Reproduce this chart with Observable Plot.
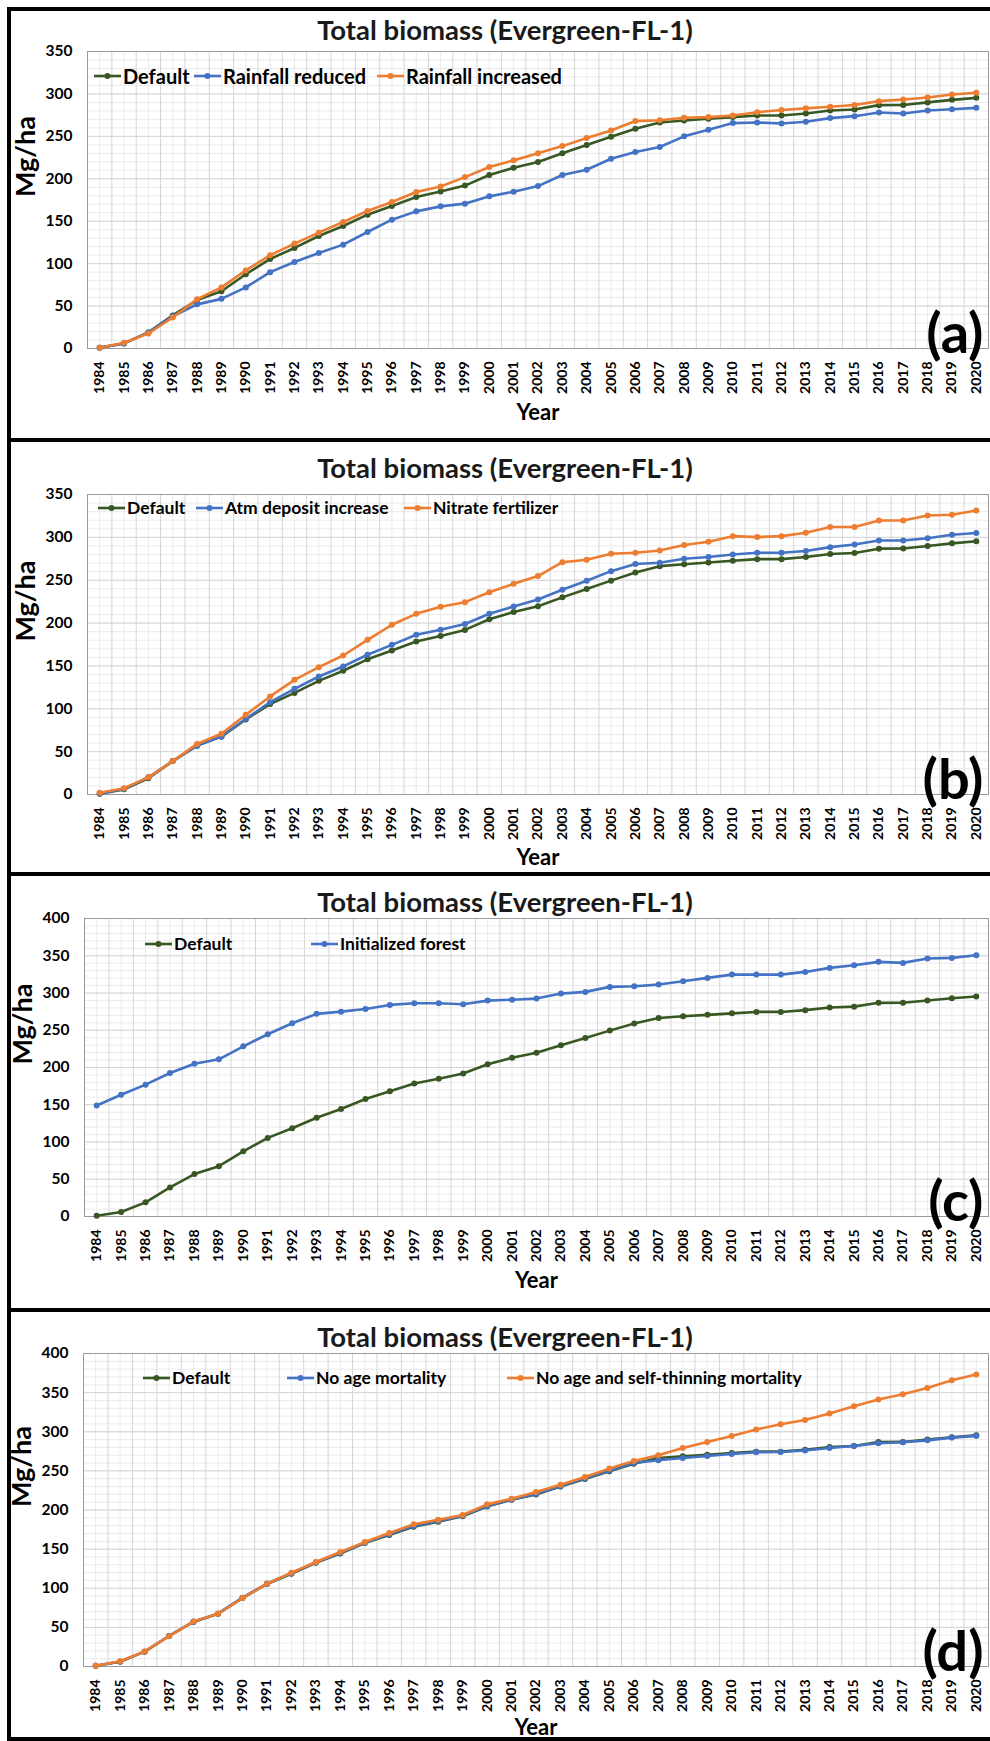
<!DOCTYPE html>
<html>
<head>
<meta charset="utf-8">
<script src="https://cdn.jsdelivr.net/npm/d3@7"></script>
<script src="https://cdn.jsdelivr.net/npm/@observablehq/plot@0.6"></script>
<style>
  html, body { margin: 0; padding: 0; background: #fff; }
  #page { position: relative; width: 990px; height: 1741px; overflow: hidden; font-family: Lato, "Open Sans", sans-serif; }
  .panel { position: absolute; left: 0; width: 990px; }
  .panel svg { position: absolute; left: 0; top: 0; }
  .title { position: absolute; left: 0; width: 1010px; text-align: center; font-size: 27.5px; font-weight: 700; color: #1a1a1a; line-height: 1; white-space: nowrap; }
  .legend-item { position: absolute; display: flex; align-items: center; font-weight: 700; color: #000; white-space: nowrap; line-height: 1; }
  .legend-item svg { position: static; margin-right: 2px; }
  .hline { position: absolute; left: 7px; width: 990px; height: 4px; background: #000; }
  .vline { position: absolute; top: 7px; width: 4px; height: 1734px; background: #000; }
</style>
</head>
<body>
<div id="page"></div>
<script>
// ---------- data ----------
const years = [1984,1985,1986,1987,1988,1989,1990,1991,1992,1993,1994,1995,1996,1997,1998,1999,2000,
               2001,2002,2003,2004,2005,2006,2007,2008,2009,2010,2011,2012,2013,2014,2015,2016,2017,2018,2019,2020];

const defaultSeries = [1, 6, 19, 39, 57, 67.5, 87.5, 105.5, 118.5, 132.6, 144.4, 157.7, 168, 178.5, 185, 192, 204.4,
  213, 219.7, 230, 239.7, 249.5, 259, 266.4, 268.7, 270.7, 272.7, 274.6, 274.6, 277, 280.5, 281.7, 286.8, 287, 290, 293, 295.4];

const rainfallReduced = [1, 6, 19, 38, 52, 58.5, 72, 90, 102, 112.6, 122.4, 137.3, 151.8, 161.6, 167.5, 170.7, 179.3,
  184.8, 191.4, 204.4, 210.7, 223.6, 231.5, 237.4, 250, 257.7, 265.6, 266.4, 265.2, 267.2, 271.5, 273.8, 278.2, 277, 280.5, 282, 283.6];

const rainfallIncreased = [1, 6.7, 17.7, 36.5, 58, 72, 92, 110, 123.6, 136.5, 149, 162, 172.6, 184.4, 191, 202, 213.8,
  221.7, 230, 238.5, 248, 257, 268, 269, 272, 272.7, 274.6, 278.5, 281, 283, 284.8, 287, 291.5, 293.5, 295.8, 299.3, 301.3];

const atmDepositIncrease = [1, 6.6, 20, 39, 57, 67.7, 88.3, 107.7, 123.3, 137.7, 149.4, 163, 174.6, 186.3, 192.1, 199, 210.8,
  219.4, 227.5, 238.8, 249.3, 260.6, 269, 270.3, 275, 277, 280, 282, 282, 284, 288.6, 291.7, 296.4, 296.4, 299, 303, 305];

const nitrateFertilizer = [2, 7.4, 20, 39, 59, 70.8, 93, 114.4, 133.8, 148.6, 162.2, 180.5, 198, 210.8, 219, 224.4, 236,
  245.8, 254.8, 271, 273.8, 280.8, 282, 284.7, 291, 294.8, 301.4, 300.3, 301.4, 305.3, 312, 312, 319.7, 319.7, 325.5, 326.3, 331.4];

const initializedForest = [149, 163.5, 177, 192.6, 205, 211, 228.4, 244.6, 259.4, 272, 275, 278.6, 284, 286.2, 286.2, 285, 289.8,
  291, 292.5, 299.2, 301.5, 308.2, 309, 311.3, 315.8, 320.3, 324.7, 324.7, 324.7, 328.3, 333.7, 337.3, 341.8, 340.4, 346.3, 347.1, 350.7];

const noAgeMortality = [1, 6.5, 19, 39, 57.5, 67.5, 88, 106, 119, 133, 145, 158, 169, 179.5, 186, 192.5, 205,
  213.5, 220.5, 230.5, 240.5, 250.5, 260, 263.5, 266.5, 269, 271.6, 273.8, 274.2, 276, 279.3, 281.9, 285.3, 286.6, 289, 292.5, 294.7];

const noAgeSelfThinning = [1, 6.8, 19.2, 38.8, 57.6, 67.4, 87.4, 105.8, 119.8, 133.5, 146.3, 159, 170.6, 181.7, 187.6, 193.6, 207.2,
  214.5, 223, 232.4, 242.2, 252.9, 262.7, 270, 279.3, 287, 294.7, 302.8, 309.6, 315.1, 323.2, 332.6, 341.2, 348, 356, 365.9, 373.1];

const titleText = "Total biomass (Evergreen-FL-1)";
const xLabel = "Year";
const yLabel = "Mg/ha";

const GREEN = "#385723", BLUE = "#4472C4", ORANGE = "#ED7D31";

// ---------- panels ----------
const panels = [
  { tag: "(a)", top: 0, height: 440, mt: 51, mb: 92, ml: 87, yMax: 350, titleY: 16, legendY: 76, legendSize: 20, yearDy: 71,
    series: [
      { name: "Default", values: defaultSeries, color: GREEN, lx: 94 },
      { name: "Rainfall reduced", values: rainfallReduced, color: BLUE, lx: 194 },
      { name: "Rainfall increased", values: rainfallIncreased, color: ORANGE, lx: 377 } ] },
  { tag: "(b)", top: 440, height: 434, mt: 54, mb: 80, ml: 87, yMax: 350, titleY: 14, legendY: 68, legendSize: 17.5, yearDy: 70,
    series: [
      { name: "Default", values: defaultSeries, color: GREEN, lx: 98 },
      { name: "Atm deposit increase", values: atmDepositIncrease, color: BLUE, lx: 196 },
      { name: "Nitrate fertilizer", values: nitrateFertilizer, color: ORANGE, lx: 404 } ] },
  { tag: "(c)", top: 874, height: 436, mt: 44, mb: 94, ml: 84, yMax: 400, titleY: 14, legendY: 70, legendSize: 17.5, yearDy: 71,
    series: [
      { name: "Default", values: defaultSeries, color: GREEN, lx: 145 },
      { name: "Initialized forest", values: initializedForest, color: BLUE, lx: 311 } ] },
  { tag: "(d)", top: 1310, height: 431, mt: 43, mb: 75, ml: 83, yMax: 400, titleY: 13, legendY: 68, legendSize: 17.5, yearDy: 68,
    series: [
      { name: "Default", values: defaultSeries, color: GREEN, lx: 143 },
      { name: "No age mortality", values: noAgeMortality, color: BLUE, lx: 287 },
      { name: "No age and self-thinning mortality", values: noAgeSelfThinning, color: ORANGE, lx: 507 } ] }
];

const page = document.getElementById("page");
const boundaries = years.slice(0, -1).map(y => y + 0.5);

for (const p of panels) {
  const div = document.createElement("div");
  div.className = "panel";
  div.style.top = p.top + "px";
  div.style.height = p.height + "px";
  page.appendChild(div);

  const seriesMarks = [];
  for (const s of p.series) {
    const rows = years.map((yr, i) => ({ year: yr, value: s.values[i] }));
    seriesMarks.push(Plot.line(rows, { x: "year", y: "value", stroke: s.color, strokeWidth: 2.6 }));
    seriesMarks.push(Plot.dot(rows, { x: "year", y: "value", fill: s.color, r: 3, stroke: "none" }));
  }

  const chart = Plot.plot({
    width: 990, height: p.height,
    marginTop: p.mt, marginBottom: p.mb, marginLeft: p.ml, marginRight: 2,
    style: { fontFamily: "Lato, 'Open Sans', sans-serif", fontWeight: "bold", color: "#000", background: "transparent", overflow: "visible" },
    x: { domain: [years[0] - 0.5, years[years.length - 1] + 0.5], label: null },
    y: { domain: [0, p.yMax], label: null },
    marks: [
      Plot.gridY({ interval: 10, stroke: "#ebebeb", strokeOpacity: 1 }),
      Plot.gridX({ ticks: years, stroke: "#ebebeb", strokeOpacity: 1 }),
      Plot.gridX({ ticks: boundaries, stroke: "#d6d6d6", strokeOpacity: 1 }),
      Plot.gridY({ interval: 50, stroke: "#d6d6d6", strokeOpacity: 1 }),
      Plot.frame({ stroke: "#9a9a9a" }),
      Plot.axisY({ interval: 50, tickSize: 0, tickPadding: 15, fontSize: 15.5, tickFormat: "d", label: null }),
      Plot.axisX({ ticks: years, tickSize: 0, tickPadding: 13, tickRotate: -90, fontSize: 14, tickFormat: "d", label: null }),
      ...seriesMarks,
      Plot.text([xLabel], { text: d => d, frameAnchor: "bottom", dy: p.yearDy, fontSize: 22, fontWeight: "bold" }),
      Plot.text([yLabel], { text: d => d, frameAnchor: "left", dx: -61, dy: -3, rotate: -90, fontSize: 27, fontWeight: "bold" }),
      Plot.text([p.tag], { text: d => d, frameAnchor: "bottom-right", textAnchor: "end", lineAnchor: "bottom", dx: -5, dy: 4, fontSize: 56, fontWeight: "bold" })
    ]
  });
  div.appendChild(chart);

  const t = document.createElement("div");
  t.className = "title";
  t.style.top = p.titleY + "px";
  t.textContent = titleText;
  div.appendChild(t);

  for (const s of p.series) {
    const it = document.createElement("div");
    it.className = "legend-item";
    it.style.left = s.lx + "px";
    it.style.top = (p.legendY - 11) + "px";
    it.style.height = "22px";
    it.style.fontSize = p.legendSize + "px";
    it.innerHTML = `<svg width="27" height="10" viewBox="0 0 27 10"><line x1="0" y1="5" x2="27" y2="5" stroke="${s.color}" stroke-width="2.6"/><circle cx="13.5" cy="5" r="3" fill="${s.color}"/></svg>`;
    const span = document.createElement("span");
    span.textContent = s.name;
    it.appendChild(span);
    div.appendChild(it);
  }
}

// panel frame lines
for (const y of [7, 438, 872, 1308, 1737]) {
  const h = document.createElement("div");
  h.className = "hline";
  h.style.top = y + "px";
  page.appendChild(h);
}
const v = document.createElement("div");
v.className = "vline";
v.style.left = "7px";
page.appendChild(v);
</script>
</body>
</html>
